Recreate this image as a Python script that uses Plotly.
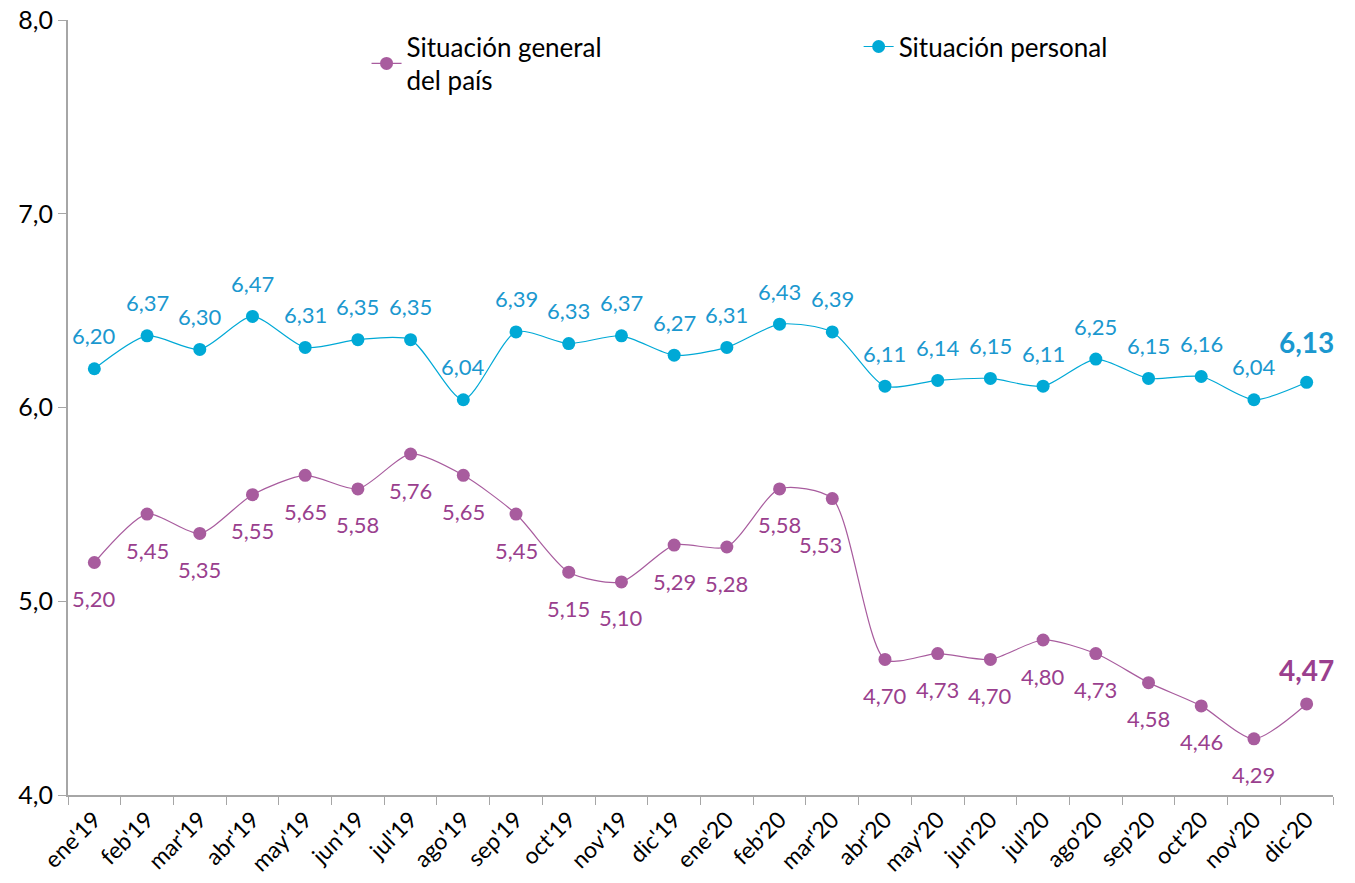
import plotly.graph_objects as go

meses = ["ene'19", "feb'19", "mar'19", "abr'19", "may'19", "jun'19", "jul'19", "ago'19",
         "sep'19", "oct'19", "nov'19", "dic'19", "ene'20", "feb'20", "mar'20", "abr'20",
         "may'20", "jun'20", "jul'20", "ago'20", "sep'20", "oct'20", "nov'20", "dic'20"]

sit_personal = [6.20, 6.37, 6.30, 6.47, 6.31, 6.35, 6.35, 6.04, 6.39, 6.33, 6.37, 6.27,
                6.31, 6.43, 6.39, 6.11, 6.14, 6.15, 6.11, 6.25, 6.15, 6.16, 6.04, 6.13]

sit_general = [5.20, 5.45, 5.35, 5.55, 5.65, 5.58, 5.76, 5.65, 5.45, 5.15, 5.10, 5.29,
               5.28, 5.58, 5.53, 4.70, 4.73, 4.70, 4.80, 4.73, 4.58, 4.46, 4.29, 4.47]

morado = '#A85C9E'
morado_txt = '#9A3F8E'
azul = '#00A9D6'
azul_txt = '#1B98CF'
fuente = 'Lato'

n = len(meses)


def fmt(v):
    return f'{v:.2f}'.replace('.', ',')


fig = go.Figure()

fig.add_trace(go.Scatter(
    x=meses, y=sit_general, name='Situación general<br>del país',
    mode='lines+markers',
    line=dict(color=morado, width=1.2, shape='spline', smoothing=0.7),
    marker=dict(color=morado, size=13),
    cliponaxis=False, legend='legend'))

fig.add_trace(go.Scatter(
    x=meses, y=sit_personal, name='Situación personal',
    mode='lines+markers',
    line=dict(color=azul, width=1.2, shape='spline', smoothing=0.7),
    marker=dict(color=azul, size=13),
    cliponaxis=False, legend='legend2'))

# etiquetas de datos
for i, (mes, v) in enumerate(zip(meses, sit_personal)):
    ultimo = i == n - 1
    fig.add_annotation(x=mes, y=v, text=f'<b>{fmt(v)}</b>' if ultimo else fmt(v),
                       showarrow=False, yshift=40 if ultimo else 33,
                       font=dict(family=fuente, size=28 if ultimo else 22, color=azul_txt))

for i, (mes, v) in enumerate(zip(meses, sit_general)):
    ultimo = i == n - 1
    xs, ys = 0, -36
    if mes == "mar'20":
        xs, ys = -12, -46
    if ultimo:
        ys = 34
    fig.add_annotation(x=mes, y=v, text=f'<b>{fmt(v)}</b>' if ultimo else fmt(v),
                       showarrow=False, yshift=ys, xshift=xs,
                       font=dict(family=fuente, size=28 if ultimo else 22, color=morado_txt))

leyenda = dict(font=dict(family=fuente, size=26, color='black'),
               bgcolor='rgba(0,0,0,0)', yanchor='top', xanchor='left',
               itemwidth=30)

fig.update_layout(
    width=1355, height=883,
    margin=dict(l=68, r=22, t=20, b=88),
    plot_bgcolor='white', paper_bgcolor='white',
    separators=',.',
    showlegend=True,
    font=dict(family=fuente, color='black'),
    legend=dict(x=0.236, y=0.996, **leyenda),
    legend2=dict(x=0.625, y=0.996, **leyenda),
    xaxis=dict(range=[-0.5, n - 0.5], tickson='boundaries', ticks='outside',
               ticklen=8, tickcolor='#A6A6A6', showline=True, linecolor='#A6A6A6',
               linewidth=2, showgrid=False, tickangle=-45, automargin=False,
               ticklabeloverflow='allow',
               tickfont=dict(family=fuente, size=23, color='black')),
    yaxis=dict(range=[4, 8], dtick=1, tickformat='.1f', ticks='outside',
               ticklen=8, tickcolor='#A6A6A6', showline=True, linecolor='#A6A6A6',
               linewidth=2, showgrid=False, zeroline=False, automargin=False,
               ticklabeloverflow='allow',
               tickfont=dict(family=fuente, size=25, color='black')),
)

# quitar el margen por defecto del body para que la figura ocupe toda la ventana
fig.write_html('out.html', config={'displayModeBar': False},
               post_script="document.body.style.margin='0';")
